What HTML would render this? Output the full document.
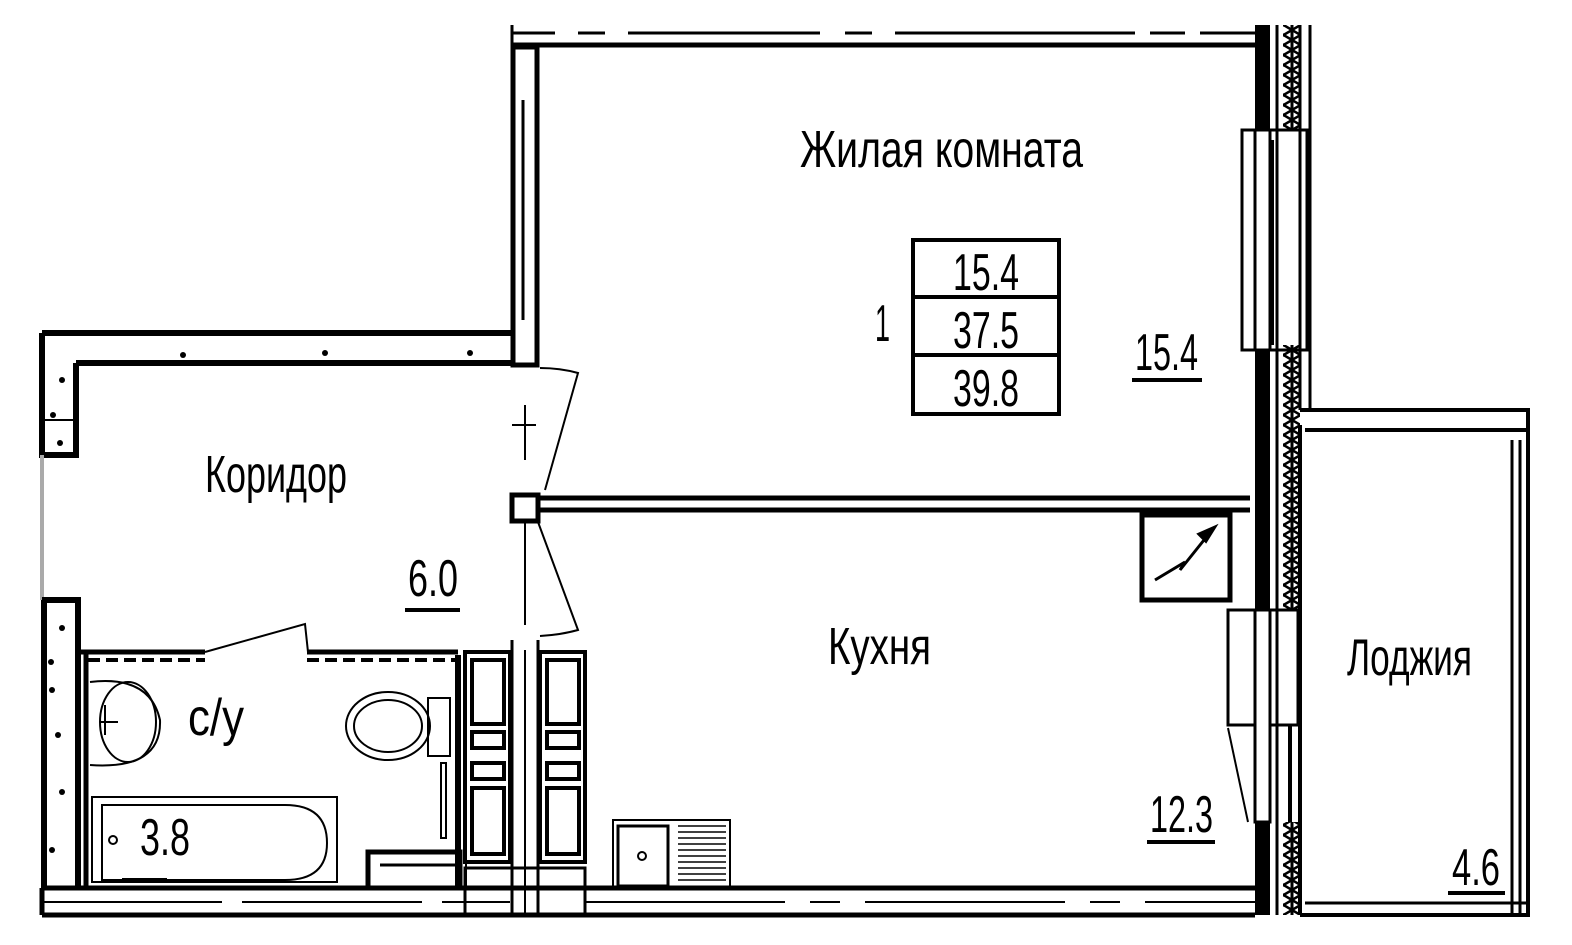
<!DOCTYPE html>
<html><head><meta charset="utf-8"><style>
html,body{margin:0;padding:0;background:#fff}
svg{display:block}
text{font-family:"Liberation Sans Narrow","Liberation Sans",sans-serif;fill:#000}
</style></head><body>
<svg width="1572" height="945" viewBox="0 0 1572 945" xmlns="http://www.w3.org/2000/svg">
<defs>
<pattern id="hx" width="17" height="10" patternUnits="userSpaceOnUse">
<rect width="17" height="10" fill="#fff"/>
<path d="M0 0 L17 10 M17 0 L0 10" stroke="#000" stroke-width="2.5"/>
<path d="M0 0 V10 M17 0 V10" stroke="#000" stroke-width="3"/>
</pattern>
</defs>
<g fill="none" stroke="#000">
<line x1="512" y1="33" x2="555" y2="33" stroke-width="3"/>
<line x1="578" y1="33" x2="605" y2="33" stroke-width="3"/>
<line x1="628" y1="33" x2="820" y2="33" stroke-width="3"/>
<line x1="845" y1="33" x2="872" y2="33" stroke-width="3"/>
<line x1="895" y1="33" x2="1135" y2="33" stroke-width="3"/>
<line x1="1150" y1="33" x2="1185" y2="33" stroke-width="3"/>
<line x1="1200" y1="33" x2="1255" y2="33" stroke-width="3"/>
<line x1="512" y1="45" x2="1255" y2="45" stroke-width="5"/>
<line x1="512" y1="25" x2="512" y2="50" stroke-width="3"/>
<rect x="513" y="47" width="24" height="318" stroke-width="5"/>
<line x1="523" y1="100" x2="523" y2="320" stroke-width="3"/>
<path d="M42 333 H512 M76 363 H512" stroke-width="6"/>
<path d="M42 333 V455 H76 V363" stroke-width="6"/>
<line x1="45" y1="420" x2="76" y2="420" stroke-width="2"/>
<line x1="42" y1="455" x2="42" y2="600" stroke="#aaa" stroke-width="4"/>
<path d="M42 600 H78 V888 M44 600 V888" stroke-width="6"/>
<path d="M540 368 Q560 368 578 373 L545 490" stroke-width="2"/>
<line x1="525" y1="405" x2="525" y2="460" stroke-width="2"/>
<line x1="512" y1="425" x2="536" y2="425" stroke-width="2"/>
<rect x="512" y="495" width="26" height="26" stroke-width="5"/>
<line x1="538" y1="498" x2="1250" y2="498" stroke-width="5"/>
<line x1="538" y1="510" x2="1250" y2="510" stroke-width="5"/>
<line x1="525" y1="522" x2="525" y2="625" stroke-width="2"/>
<path d="M538 522 L578 630 Q560 635 540 636" stroke-width="2"/>
<path d="M80 652 H205 M307 652 H458" stroke-width="5"/>
<path d="M88 660 H205 M307 660 H455" stroke-width="4" stroke-dasharray="12 6"/>
<line x1="86" y1="652" x2="86" y2="888" stroke-width="5"/>
<path d="M205 652 L305 624 L308 652" stroke-width="2"/>
<path d="M90 682 Q150 675 160 720 Q162 770 90 765" stroke-width="2"/>
<ellipse cx="128" cy="722" rx="28" ry="40" stroke-width="2"/>
<path d="M100 722 H118 M105 705 V735" stroke-width="2"/>
<ellipse cx="388" cy="726" rx="42" ry="34" stroke-width="2"/>
<ellipse cx="388" cy="726" rx="34" ry="26" stroke-width="2"/>
<rect x="428" y="698" width="22" height="58" stroke-width="2"/>
<rect x="441" y="763" width="5" height="75" stroke-width="2"/>
<rect x="92" y="797" width="245" height="85" stroke-width="2"/>
<path d="M102 805 H285 Q327 805 327 843 Q327 880 285 880 H102 Z" stroke-width="2"/>
<circle cx="113" cy="840" r="4" stroke-width="2"/>
<rect x="368" y="852" width="92" height="36" stroke-width="5"/>
<line x1="380" y1="865" x2="460" y2="865" stroke-width="3"/>
<line x1="458" y1="655" x2="458" y2="888" stroke-width="6"/>
<line x1="466" y1="655" x2="466" y2="888" stroke-width="2"/>
<rect x="465" y="652" width="45" height="210" stroke-width="4"/>
<rect x="472" y="660" width="32" height="64" stroke-width="4"/>
<rect x="472" y="732" width="32" height="16" stroke-width="4"/>
<rect x="472" y="763" width="32" height="16" stroke-width="4"/>
<rect x="472" y="788" width="32" height="66" stroke-width="4"/>
<rect x="540" y="652" width="45" height="210" stroke-width="4"/>
<rect x="547" y="660" width="32" height="64" stroke-width="4"/>
<rect x="547" y="732" width="32" height="16" stroke-width="4"/>
<rect x="547" y="763" width="32" height="16" stroke-width="4"/>
<rect x="547" y="788" width="32" height="66" stroke-width="4"/>
<path d="M512 640 V915 M538 640 V915" stroke-width="3"/>
<path d="M525 650 V915" stroke-width="2"/>
<path d="M42 888 H1255 M42 915 H1255 M42 888 V915" stroke-width="5"/>
<path d="M42 902 H510" stroke-width="2" stroke-dasharray="180 20"/>
<path d="M585 902 H1255" stroke-width="2" stroke-dasharray="200 25 30 25"/>
<rect x="465" y="868" width="120" height="47" stroke-width="3"/>
<rect x="613" y="820" width="117" height="68" stroke-width="2"/>
<rect x="618" y="826" width="50" height="60" stroke-width="3"/>
<circle cx="642" cy="856" r="4" stroke-width="2"/>
<path d="M678 826 H726 M678 832 H726 M678 838 H726 M678 844 H726 M678 850 H726 M678 856 H726 M678 862 H726 M678 868 H726 M678 874 H726 M678 880 H726" stroke-width="1.5"/>
<rect x="1142" y="515" width="88" height="85" stroke-width="5"/>
<path d="M1155 580 L1185 562 L1180 570 L1212 530" stroke-width="3"/>
<path d="M1216 526 L1198 534 L1206 542 Z" fill="#000" stroke-width="2"/>
<rect x="1255" y="25" width="15" height="890" fill="#000" stroke="none"/>
<rect x="1283" y="25" width="17" height="105" fill="url(#hx)" stroke="none"/>
<rect x="1283" y="345" width="17" height="265" fill="url(#hx)" stroke="none"/>
<rect x="1283" y="822" width="17" height="93" fill="url(#hx)" stroke="none"/>
<path d="M1277 25 V915" stroke-width="3"/>
<path d="M1300 25 V410 M1310 25 V410" stroke-width="3"/>
<rect x="1242" y="130" width="65" height="220" stroke-width="3"/>
<line x1="1272" y1="140" x2="1272" y2="345" stroke-width="4"/>
<rect x="1228" y="610" width="70" height="115" stroke-width="3"/>
<line x1="1268" y1="620" x2="1268" y2="720" stroke-width="4"/>
<path d="M1228 728 L1248 822" stroke-width="2"/>
<path d="M1262 725 V822 M1290 725 V822" stroke-width="4"/>
<rect x="1255" y="130" width="15" height="220" fill="#fff" stroke="#000" stroke-width="3"/>
<rect x="1255" y="610" width="15" height="212" fill="#fff" stroke="#000" stroke-width="3"/>
<path d="M1300 410 H1528 V915 H1300" stroke-width="4"/>
<path d="M1305 430 H1528 M1300 425 V915" stroke-width="4"/>
<path d="M1305 903 H1528" stroke-width="3"/>
<path d="M1512 440 V915 M1520 440 V915" stroke-width="3"/>
</g>
<g fill="#000">
<circle cx="183" cy="355" r="3"/><circle cx="325" cy="353" r="3"/><circle cx="470" cy="353" r="3"/>
<circle cx="62" cy="380" r="3"/><circle cx="53" cy="415" r="3"/><circle cx="60" cy="443" r="3"/>
<circle cx="62" cy="628" r="3"/><circle cx="51" cy="662" r="3"/><circle cx="52" cy="690" r="3"/>
<circle cx="58" cy="735" r="3"/><circle cx="62" cy="792" r="3"/><circle cx="52" cy="850" r="3"/>
</g>
<g fill="none" stroke="#000" stroke-width="4">
<rect x="913" y="240" width="146" height="174"/>
<line x1="913" y1="297" x2="1059" y2="297"/>
<line x1="913" y1="355" x2="1059" y2="355"/>
</g>
<g font-size="52">
<text x="800" y="167" textLength="283" lengthAdjust="spacingAndGlyphs">Жилая комната</text>
<text x="953" y="290" textLength="66" lengthAdjust="spacingAndGlyphs">15.4</text>
<text x="953" y="348" textLength="66" lengthAdjust="spacingAndGlyphs">37.5</text>
<text x="953" y="406" textLength="66" lengthAdjust="spacingAndGlyphs">39.8</text>
<text x="875" y="341" textLength="15" lengthAdjust="spacingAndGlyphs">1</text>
<text x="1135" y="370" textLength="63" lengthAdjust="spacingAndGlyphs">15.4</text>
<text x="205" y="492" textLength="142" lengthAdjust="spacingAndGlyphs">Коридор</text>
<text x="408" y="596" textLength="50" lengthAdjust="spacingAndGlyphs">6.0</text>
<text x="188" y="735" textLength="56" lengthAdjust="spacingAndGlyphs">с/у</text>
<text x="140" y="855" textLength="50" lengthAdjust="spacingAndGlyphs">3.8</text>
<text x="828" y="664" textLength="103" lengthAdjust="spacingAndGlyphs">Кухня</text>
<text x="1150" y="832" textLength="63" lengthAdjust="spacingAndGlyphs">12.3</text>
<text x="1347" y="675" textLength="125" lengthAdjust="spacingAndGlyphs">Лоджия</text>
<text x="1452" y="885" textLength="48" lengthAdjust="spacingAndGlyphs">4.6</text>
</g>
<g stroke="#000" stroke-width="4">
<line x1="1132" y1="380" x2="1202" y2="380"/>
<line x1="405" y1="610" x2="460" y2="610"/>
<line x1="122" y1="880" x2="167" y2="880"/>
<line x1="1147" y1="842" x2="1215" y2="842"/>
<line x1="1448" y1="893" x2="1505" y2="893"/>
</g>
</svg>
</body></html>
